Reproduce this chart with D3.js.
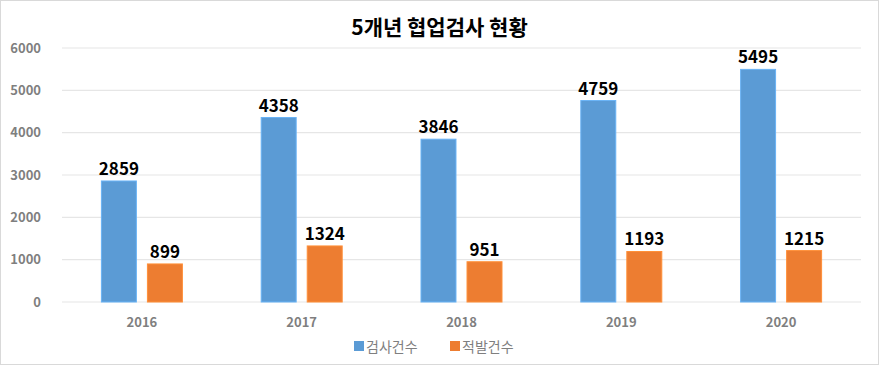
<!DOCTYPE html>
<html>
<head>
<meta charset="utf-8">
<script src="https://cdn.jsdelivr.net/npm/d3@7"></script>
<style>
  body { margin: 0; background: #fff; }
  svg { display: block; font-family: "Noto Sans CJK KR", "Noto Sans", sans-serif; }
</style>
</head>
<body>
<div id="chart"></div>
<script>
// data
const years = ["2016", "2017", "2018", "2019", "2020"];
const inspections = [2859, 4358, 3846, 4759, 5495];   // 검사건수
const violations = [899, 1324, 951, 1193, 1215];       // 적발건수
const seriesNames = ["검사건수", "적발건수"];
const seriesColors = ["#5B9BD5", "#ED7D31"];
const yTicks = [0, 1000, 2000, 3000, 4000, 5000, 6000];

const W = 879, H = 365;
const margin = {top: 48, right: 18, bottom: 63, left: 62};

const svg = d3.select("#chart").append("svg")
    .attr("width", W)
    .attr("height", H);

svg.append("rect")
    .attr("x", 0.5).attr("y", 0.5)
    .attr("width", W - 1).attr("height", H - 1)
    .attr("fill", "#fff")
    .attr("stroke", "#d9d9d9");

const x = d3.scaleBand()
    .domain(years)
    .range([margin.left, W - margin.right]);

const x1 = d3.scaleBand()
    .domain([0, 1])
    .range([0, 81])
    .paddingInner(0.24);

const y = d3.scaleLinear()
    .domain([0, 6000])
    .range([H - margin.bottom, margin.top]);

// grid
svg.append("g")
    .selectAll("line")
    .data(yTicks)
    .enter()
    .append("line")
    .attr("x1", margin.left)
    .attr("x2", W - margin.right)
    .attr("y1", d => y(d))
    .attr("y2", d => y(d))
    .attr("stroke", "#e6e6e6")
    .attr("stroke-width", 1.2);

// y tick labels
svg.append("g")
    .selectAll("text")
    .data(yTicks)
    .enter()
    .append("text")
    .attr("x", 41)
    .attr("y", d => y(d))
    .attr("dy", "0.35em")
    .attr("text-anchor", "end")
    .attr("fill", "#7f7f7f")
    .attr("font-size", 13)
    .attr("font-weight", "bold")
    .text(d => d);

// x labels
svg.append("g")
    .selectAll("text")
    .data(years)
    .enter()
    .append("text")
    .attr("x", d => x(d) + x.bandwidth() / 2)
    .attr("y", H - margin.bottom + 25)
    .attr("text-anchor", "middle")
    .attr("fill", "#7f7f7f")
    .attr("font-size", 13)
    .attr("font-weight", "bold")
    .text(d => d);

const rows = years.map((yr, i) => ({year: yr, values: [inspections[i], violations[i]]}));

const groups = svg.append("g")
    .selectAll("g")
    .data(rows)
    .enter()
    .append("g")
    .attr("transform", d => `translate(${x(d.year) + x.bandwidth() / 2 - 40.5},0)`);

groups.selectAll("rect")
    .data(d => d.values.map((v, k) => ({k, v})))
    .enter()
    .append("rect")
    .attr("x", d => x1(d.k))
    .attr("width", x1.bandwidth())
    .attr("y", d => y(d.v))
    .attr("height", d => y(0) - y(d.v))
    .attr("fill", d => seriesColors[d.k])
    .attr("stroke", d => d3.color(seriesColors[d.k]).brighter(0.4))
    .attr("stroke-width", 1);

groups.selectAll("text")
    .data(d => d.values.map((v, k) => ({k, v})))
    .enter()
    .append("text")
    .attr("x", d => x1(d.k) + x1.bandwidth() / 2)
    .attr("y", d => y(d.v) - 6)
    .attr("text-anchor", "middle")
    .attr("font-size", 17)
    .attr("font-weight", "bold")
    .attr("fill", "#000")
    .text(d => d.v);

// title
svg.append("text")
    .attr("x", W / 2)
    .attr("y", 35)
    .attr("text-anchor", "middle")
    .attr("font-size", 21)
    .attr("font-weight", "bold")
    .attr("fill", "#000")
    .text("5개년 협업검사 현황");

// legend
const legend = svg.append("g")
    .attr("transform", `translate(354,347)`);

const items = legend.selectAll("g")
    .data(seriesNames)
    .enter()
    .append("g")
    .attr("transform", (d, i) => `translate(${i * 96},0)`);

items.append("rect")
    .attr("x", 0).attr("y", -6)
    .attr("width", 10).attr("height", 10)
    .attr("fill", (d, i) => seriesColors[i]);

items.append("text")
    .attr("x", 12)
    .attr("y", 0)
    .attr("dy", "0.35em")
    .attr("font-size", 14)
    .attr("fill", "#7f7f7f")
    .text(d => d);
</script>
</body>
</html>
